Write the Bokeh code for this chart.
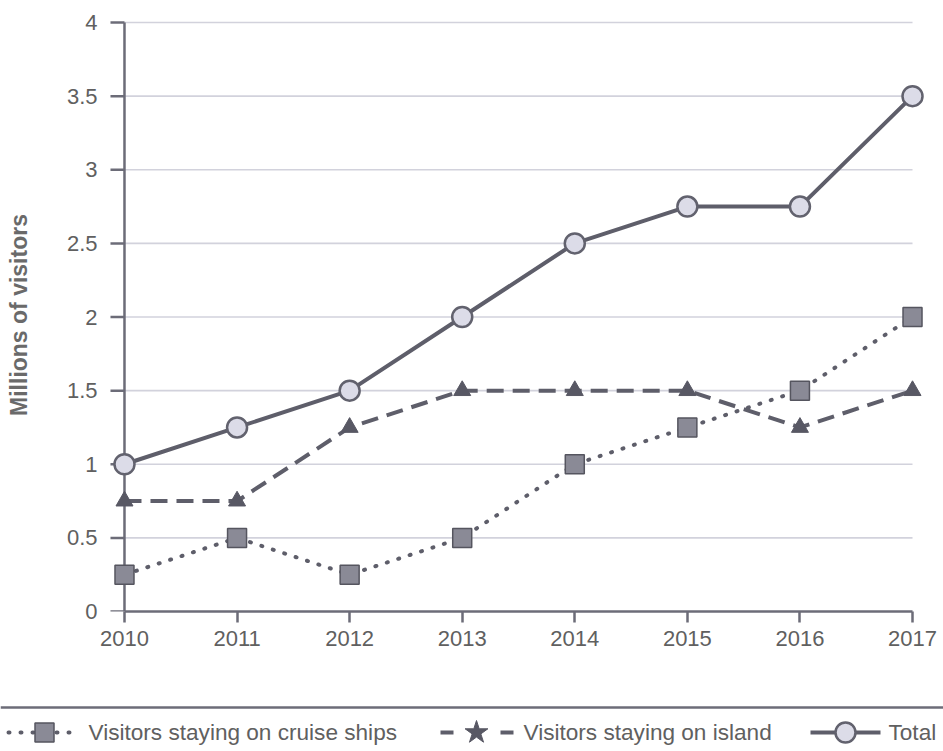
import math
from bokeh.plotting import figure
from bokeh.models import Range1d, FixedTicker, CustomJSTickFormatter
from bokeh.core.properties import value
from bokeh.embed import file_html
from bokeh.resources import INLINE

# ---- data ----
years = [2010, 2011, 2012, 2013, 2014, 2015, 2016, 2017]
cruise = [0.25, 0.5, 0.25, 0.5, 1.0, 1.25, 1.5, 2.0]
island = [0.75, 0.75, 1.25, 1.5, 1.5, 1.5, 1.25, 1.5]
total = [1.0, 1.25, 1.5, 2.0, 2.5, 2.75, 2.75, 3.5]
y_ticks = [0, 0.5, 1, 1.5, 2, 2.5, 3, 3.5, 4]
y_tick_labels = ["0", "0.5", "1", "1.5", "2", "2.5", "3", "3.5", "4"]
x_tick_labels = [str(y) for y in years]
series_names = ["Visitors staying on cruise ships", "Visitors staying on island", "Total"]
y_title = "Millions of visitors"

# ---- style ----
FONT = "Liberation Sans"
TEXT = "#606060"
AXIS = "#6c6c78"
LINE = "#5e5e6a"
GRID = "#d2d2dc"
SQ_FILL = "#8a8a96"
SQ_LINE = "#55555f"
TRI_FILL = "#585864"
CIR_FILL = "#dcdce8"
CIR_LINE = "#62626e"
FS = "22px"
LEG_FS = "22.6px"

W = 943
FRAME_W = 820
XPAD = 0.142
PXX = FRAME_W / (years[-1] - years[0] + 2 * XPAD)
PXY = 147.25
Y_TICK_OUT = 14

p = figure(width=W, height=690, output_backend="svg", toolbar_location=None, title=None,
           x_range=Range1d(years[0] - XPAD, years[-1] + XPAD),
           y_range=Range1d(0, y_ticks[-1] + 4 / PXY),
           min_border_left=108, min_border_right=15, min_border_top=18, min_border_bottom=79)
p.outline_line_color = None
p.xgrid.visible = False
p.ygrid.visible = False

# x axis
xa = p.xaxis[0]
xa.ticker = FixedTicker(ticks=years)
xa.major_label_overrides = {y: l for y, l in zip(years, x_tick_labels)}
xa.bounds = (years[0], years[-1])
xa.major_tick_in = 0
xa.major_tick_out = 11
xa.minor_tick_line_color = None
xa.major_label_standoff = 8
xa.axis_line_color = AXIS
xa.axis_line_width = 2.5
xa.major_tick_line_color = AXIS
xa.major_tick_line_width = 2.5
xa.major_label_text_font = FONT
xa.major_label_text_font_size = FS
xa.major_label_text_color = TEXT

# y axis: labels and title only (line + ticks drawn at the 2010 position below)
ya = p.yaxis[0]
ya.ticker = FixedTicker(ticks=y_ticks)
ya.formatter = CustomJSTickFormatter(args=dict(yt=y_ticks, yl=y_tick_labels),
                                     code="const i = yt.indexOf(tick); return i >= 0 ? yl[i] : '';")
ya.axis_line_color = None
ya.major_tick_line_color = None
ya.minor_tick_line_color = None
ya.major_tick_in = 0
ya.major_tick_out = 0
ya.major_label_standoff = 11
ya.major_label_text_font = FONT
ya.major_label_text_font_size = FS
ya.major_label_text_color = TEXT
ya.axis_label = y_title
ya.axis_label_standoff = 32
ya.axis_label_text_font = FONT
ya.axis_label_text_font_size = "23px"
ya.axis_label_text_font_style = "bold"
ya.axis_label_text_color = "#6a6a6a"

# horizontal grid lines between first and last year
p.segment(x0=years[0], x1=years[-1], y0=y_ticks[1:], y1=y_ticks[1:],
          line_color=GRID, line_width=1.6)

# vertical axis line at the first year, with outward ticks
p.segment(x0=years[0], x1=years[0], y0=y_ticks[0], y1=y_ticks[-1],
          line_color=AXIS, line_width=2.5)
p.segment(x0=years[0] - Y_TICK_OUT / PXX, x1=years[0], y0=y_ticks, y1=y_ticks,
          line_color=AXIS, line_width=2.5)

# series lines
p.line(years, cruise, line_color=LINE, line_width=4, line_dash="1 11", line_cap="round")
p.line(years, island, line_color=LINE, line_width=4, line_dash="17 9")
p.line(years, total, line_color=LINE, line_width=4, line_join="round")

# markers
p.scatter(years, cruise, marker="square", size=19, fill_color=SQ_FILL,
          line_color=SQ_LINE, line_width=1.5)
p.scatter(years, island, marker="triangle", size=17, fill_color=TRI_FILL,
          line_color=TRI_FILL, line_width=1)
p.scatter(years, total, marker="circle", size=20, fill_color=CIR_FILL,
          line_color=CIR_LINE, line_width=2.5)

# ---- legend strip (separate root, so its frame is not aligned with the chart) ----
LH = 61
leg = figure(width=W, height=LH, output_backend="svg", toolbar_location=None, title=None,
             x_range=Range1d(0, W), y_range=Range1d(LH, 0),
             x_axis_location=None, y_axis_location=None,
             min_border=0, min_border_left=0, min_border_right=0,
             min_border_top=0, min_border_bottom=0)
leg.outline_line_color = None
leg.xgrid.visible = False
leg.ygrid.visible = False

sep_y = 17
row_y = 42
leg.segment(x0=0, x1=W, y0=sep_y, y1=sep_y, line_color=AXIS, line_width=2.5)

# item 1: cruise ships
leg.line([8, 80], [row_y, row_y], line_color=LINE, line_width=4, line_dash="1 11", line_cap="round")
leg.scatter([44], [row_y], marker="square", size=19, fill_color=SQ_FILL, line_color=SQ_LINE, line_width=1.5)
# item 2: island
leg.segment(x0=[440, 500], x1=[453, 513], y0=row_y, y1=row_y, line_color=LINE, line_width=4)
leg.scatter([476], [row_y], marker="star", size=24, fill_color=TRI_FILL, line_color=TRI_FILL, line_width=1)
# item 3: total
leg.line([810, 880], [row_y, row_y], line_color=LINE, line_width=4)
leg.scatter([845], [row_y], marker="circle", size=20, fill_color=CIR_FILL, line_color=CIR_LINE, line_width=2.5)

leg.text(x=[88, 523, 888], y=[row_y] * 3, text=series_names,
         text_font=value(FONT), text_font_size=LEG_FS, text_color=TEXT,
         text_align="left", text_baseline="middle")

open("out.html", "w").write(file_html([p, leg], INLINE))
